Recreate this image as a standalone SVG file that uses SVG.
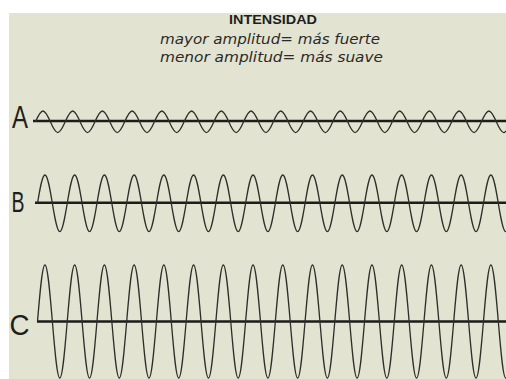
<svg xmlns="http://www.w3.org/2000/svg" width="506" height="379" viewBox="0 0 506 379">
<style>
.bg{fill:#e2e3d1}
.axis{stroke:#1c1c1a;stroke-width:2.6;fill:none}
.wave{stroke:#2e2e2a;stroke-width:1.3;fill:none;vector-effect:non-scaling-stroke}
.lbl{font-family:"Liberation Sans",Arial,sans-serif;fill:#1e1e1c}
.title{font-family:"Liberation Sans",Arial,sans-serif;font-weight:bold;font-size:13px;fill:#1e1e1c}
.sub{font-family:"DejaVu Sans","Liberation Sans",sans-serif;font-style:italic;font-size:14px;fill:#2a2a28}
</style>
<rect x="0" y="0" width="506" height="379" fill="#ffffff"/>
<rect class="bg" x="9" y="13" width="497" height="366"/>
<g id="header">
<text class="title" x="273" y="24" text-anchor="middle" textLength="88" lengthAdjust="spacingAndGlyphs">INTENSIDAD</text>
<text class="sub" x="160" y="43.5" textLength="220" lengthAdjust="spacingAndGlyphs">mayor amplitud= más fuerte</text>
<text class="sub" x="160" y="62" textLength="223" lengthAdjust="spacingAndGlyphs">menor amplitud= más suave</text>
</g>
<g id="wave-A">
<text class="lbl" x="12" y="127.6" font-size="31" textLength="16" lengthAdjust="spacingAndGlyphs">A</text>
<line class="axis" x1="33" y1="121" x2="506" y2="121"/>
<path class="wave" transform="translate(35.5,121.8) scale(7.4325,10.8)" d="M0,0 c0.3261,-0.5123 0.6381,-1 1,-1 s0.6739,0.4877 1,1 s0.6381,1 1,1 s0.6739,-0.4877 1,-1 s0.6381,-1 1,-1 s0.6739,0.4877 1,1 s0.6381,1 1,1 s0.6739,-0.4877 1,-1 s0.6381,-1 1,-1 s0.6739,0.4877 1,1 s0.6381,1 1,1 s0.6739,-0.4877 1,-1 s0.6381,-1 1,-1 s0.6739,0.4877 1,1 s0.6381,1 1,1 s0.6739,-0.4877 1,-1 s0.6381,-1 1,-1 s0.6739,0.4877 1,1 s0.6381,1 1,1 s0.6739,-0.4877 1,-1 s0.6381,-1 1,-1 s0.6739,0.4877 1,1 s0.6381,1 1,1 s0.6739,-0.4877 1,-1 s0.6381,-1 1,-1 s0.6739,0.4877 1,1 s0.6381,1 1,1 s0.6739,-0.4877 1,-1 s0.6381,-1 1,-1 s0.6739,0.4877 1,1 s0.6381,1 1,1 s0.6739,-0.4877 1,-1 s0.6381,-1 1,-1 s0.6739,0.4877 1,1 s0.6381,1 1,1 s0.6739,-0.4877 1,-1 s0.6381,-1 1,-1 s0.6739,0.4877 1,1 s0.6381,1 1,1 s0.6739,-0.4877 1,-1 s0.6381,-1 1,-1 s0.6739,0.4877 1,1 s0.6381,1 1,1 s0.6739,-0.4877 1,-1 s0.6381,-1 1,-1 s0.6739,0.4877 1,1 s0.6381,1 1,1 s0.6739,-0.4877 1,-1 s0.6381,-1 1,-1 s0.6739,0.4877 1,1 s0.6381,1 1,1 s0.6739,-0.4877 1,-1 s0.6381,-1 1,-1 s0.6739,0.4877 1,1 s0.6381,1 1,1 s0.6739,-0.4877 1,-1 s0.6381,-1 1,-1 s0.6739,0.4877 1,1 s0.6381,1 1,1 s0.6739,-0.4877 1,-1 s0.6381,-1 1,-1 s0.6739,0.4877 1,1 s0.6381,1 1,1 s0.6739,-0.4877 1,-1"/>
</g>
<g id="wave-B">
<text class="lbl" x="11.5" y="211.7" font-size="29" textLength="13" lengthAdjust="spacingAndGlyphs">B</text>
<line class="axis" x1="35" y1="202.7" x2="506" y2="202.7"/>
<path class="wave" transform="translate(37.5,203.3) scale(7.4325,28.3)" d="M0,0 c0.3261,-0.5123 0.6381,-1 1,-1 s0.6739,0.4877 1,1 s0.6381,1 1,1 s0.6739,-0.4877 1,-1 s0.6381,-1 1,-1 s0.6739,0.4877 1,1 s0.6381,1 1,1 s0.6739,-0.4877 1,-1 s0.6381,-1 1,-1 s0.6739,0.4877 1,1 s0.6381,1 1,1 s0.6739,-0.4877 1,-1 s0.6381,-1 1,-1 s0.6739,0.4877 1,1 s0.6381,1 1,1 s0.6739,-0.4877 1,-1 s0.6381,-1 1,-1 s0.6739,0.4877 1,1 s0.6381,1 1,1 s0.6739,-0.4877 1,-1 s0.6381,-1 1,-1 s0.6739,0.4877 1,1 s0.6381,1 1,1 s0.6739,-0.4877 1,-1 s0.6381,-1 1,-1 s0.6739,0.4877 1,1 s0.6381,1 1,1 s0.6739,-0.4877 1,-1 s0.6381,-1 1,-1 s0.6739,0.4877 1,1 s0.6381,1 1,1 s0.6739,-0.4877 1,-1 s0.6381,-1 1,-1 s0.6739,0.4877 1,1 s0.6381,1 1,1 s0.6739,-0.4877 1,-1 s0.6381,-1 1,-1 s0.6739,0.4877 1,1 s0.6381,1 1,1 s0.6739,-0.4877 1,-1 s0.6381,-1 1,-1 s0.6739,0.4877 1,1 s0.6381,1 1,1 s0.6739,-0.4877 1,-1 s0.6381,-1 1,-1 s0.6739,0.4877 1,1 s0.6381,1 1,1 s0.6739,-0.4877 1,-1 s0.6381,-1 1,-1 s0.6739,0.4877 1,1 s0.6381,1 1,1 s0.6739,-0.4877 1,-1 s0.6381,-1 1,-1 s0.6739,0.4877 1,1 s0.6381,1 1,1 s0.6739,-0.4877 1,-1 s0.6381,-1 1,-1 s0.6739,0.4877 1,1 s0.6381,1 1,1 s0.6739,-0.4877 1,-1 s0.6381,-1 1,-1 s0.6739,0.4877 1,1 s0.6381,1 1,1 s0.6739,-0.4877 1,-1 s0.6381,-1 1,-1 s0.6739,0.4877 1,1 s0.6381,1 1,1 s0.6739,-0.4877 1,-1 s0.6381,-1 1,-1 s0.6739,0.4877 1,1 s0.6381,1 1,1 s0.6739,-0.4877 1,-1"/>
</g>
<g id="wave-C">
<text class="lbl" x="9.5" y="335" font-size="30" textLength="20" lengthAdjust="spacingAndGlyphs">C</text>
<line class="axis" x1="37" y1="321.5" x2="506" y2="321.5"/>
<path class="wave" transform="translate(37.5,321.5) scale(7.4325,56.5)" d="M0,0 c0.3261,-0.5123 0.6381,-1 1,-1 s0.6739,0.4877 1,1 s0.6381,1 1,1 s0.6739,-0.4877 1,-1 s0.6381,-1 1,-1 s0.6739,0.4877 1,1 s0.6381,1 1,1 s0.6739,-0.4877 1,-1 s0.6381,-1 1,-1 s0.6739,0.4877 1,1 s0.6381,1 1,1 s0.6739,-0.4877 1,-1 s0.6381,-1 1,-1 s0.6739,0.4877 1,1 s0.6381,1 1,1 s0.6739,-0.4877 1,-1 s0.6381,-1 1,-1 s0.6739,0.4877 1,1 s0.6381,1 1,1 s0.6739,-0.4877 1,-1 s0.6381,-1 1,-1 s0.6739,0.4877 1,1 s0.6381,1 1,1 s0.6739,-0.4877 1,-1 s0.6381,-1 1,-1 s0.6739,0.4877 1,1 s0.6381,1 1,1 s0.6739,-0.4877 1,-1 s0.6381,-1 1,-1 s0.6739,0.4877 1,1 s0.6381,1 1,1 s0.6739,-0.4877 1,-1 s0.6381,-1 1,-1 s0.6739,0.4877 1,1 s0.6381,1 1,1 s0.6739,-0.4877 1,-1 s0.6381,-1 1,-1 s0.6739,0.4877 1,1 s0.6381,1 1,1 s0.6739,-0.4877 1,-1 s0.6381,-1 1,-1 s0.6739,0.4877 1,1 s0.6381,1 1,1 s0.6739,-0.4877 1,-1 s0.6381,-1 1,-1 s0.6739,0.4877 1,1 s0.6381,1 1,1 s0.6739,-0.4877 1,-1 s0.6381,-1 1,-1 s0.6739,0.4877 1,1 s0.6381,1 1,1 s0.6739,-0.4877 1,-1 s0.6381,-1 1,-1 s0.6739,0.4877 1,1 s0.6381,1 1,1 s0.6739,-0.4877 1,-1 s0.6381,-1 1,-1 s0.6739,0.4877 1,1 s0.6381,1 1,1 s0.6739,-0.4877 1,-1 s0.6381,-1 1,-1 s0.6739,0.4877 1,1 s0.6381,1 1,1 s0.6739,-0.4877 1,-1 s0.6381,-1 1,-1 s0.6739,0.4877 1,1 s0.6381,1 1,1 s0.6739,-0.4877 1,-1"/>
</g>
</svg>
